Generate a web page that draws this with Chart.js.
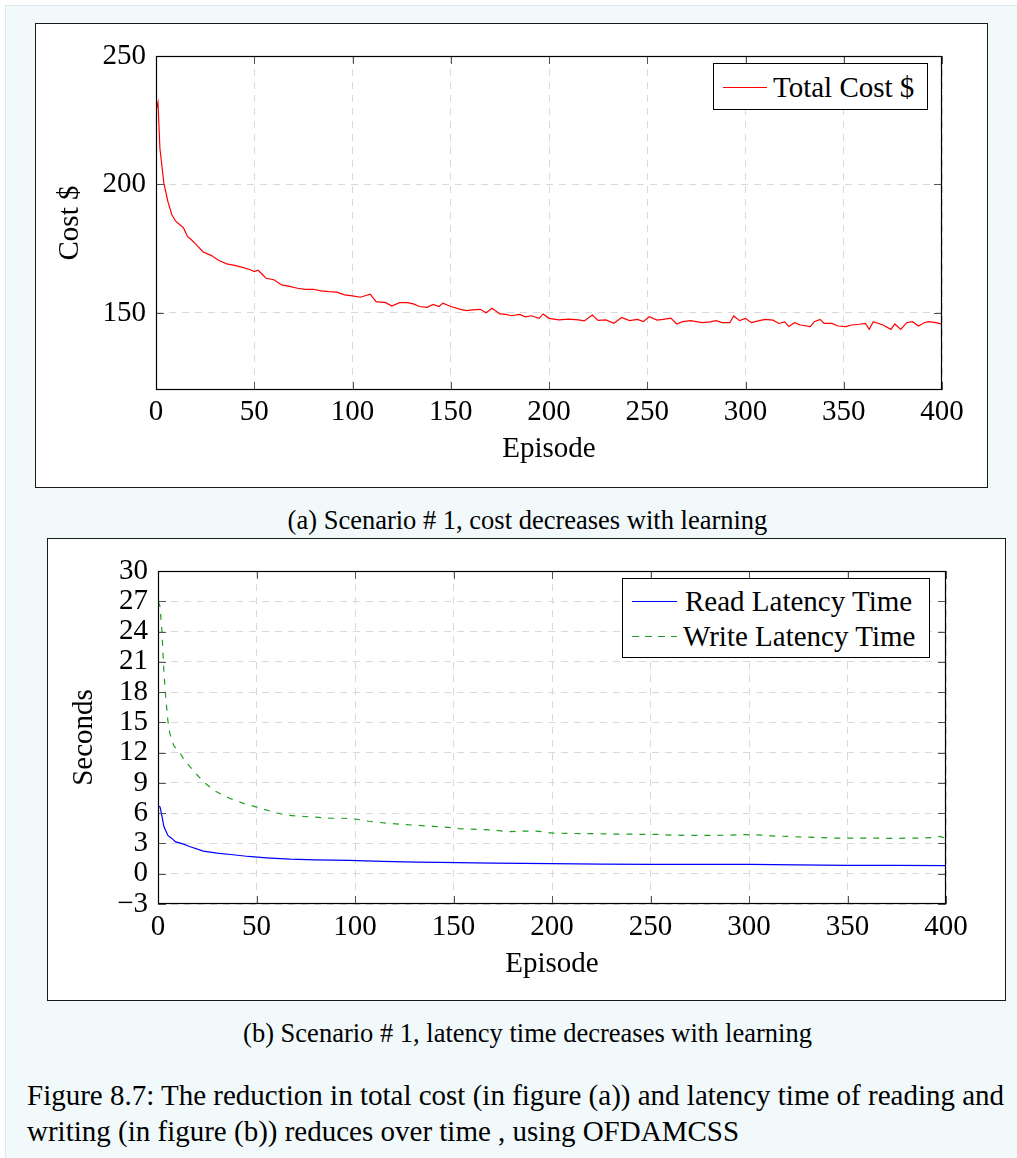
<!DOCTYPE html>
<html>
<head>
<meta charset="utf-8">
<script src="https://cdn.jsdelivr.net/npm/chart.js@4.4.1/dist/chart.umd.min.js"></script>
<style>
  html, body { margin: 0; padding: 0; background: #fff; }
  body { width: 1017px; height: 1158px; position: relative; overflow: hidden; font-family: 'Liberation Serif', 'Times New Roman', serif; color: #000; }
  #page { position: absolute; left: 5px; top: 5px; width: 1012px; height: 1153px; background: #f2f9fb; border-top: 1px solid #dde9ef; border-left: 1px solid #dde9ef; }
  .frame { position: absolute; background: #fff; border: 1px solid #1a1a1a; box-sizing: border-box; }
  canvas { position: absolute; }
  .legend { position: absolute; background: #fff; border: 1px solid #000; box-sizing: border-box; }
  .row { position: absolute; font-size: 29px; line-height: 32px; white-space: nowrap; }
  .sample { position: absolute; }
  .cap { position: absolute; font-size: 26.5px; line-height: 32px; white-space: nowrap; }
</style>
</head>
<body>
<div id="page"></div>

<div class="frame" style="left:35px;top:23px;width:953px;height:465px"></div>
<canvas id="costChart" width="951" height="463" style="left:36px;top:24px"></canvas>
<div class="legend" style="left:713px;top:63px;width:215px;height:47px">
  <svg class="sample" style="left:9px;top:22px" width="45" height="4"><line x1="0" y1="1.5" x2="44" y2="1.5" stroke="#ff0000" stroke-width="1.2"/></svg>
  <div class="row" style="left:59px;top:7px">Total Cost $</div>
</div>

<div class="cap" style="left:27px;top:504px;width:1001px;text-align:center">(a) Scenario # 1, cost decreases with learning</div>

<div class="frame" style="left:47px;top:538px;width:959px;height:463px"></div>
<canvas id="latencyChart" width="957" height="461" style="left:48px;top:539px"></canvas>
<div class="legend" style="left:622px;top:578px;width:308px;height:80px">
  <svg class="sample" style="left:9px;top:21px" width="46" height="4"><line x1="0" y1="1.5" x2="45" y2="1.5" stroke="#0000ff" stroke-width="1.2"/></svg>
  <div class="row" style="left:62px;top:6px">Read Latency Time</div>
  <svg class="sample" style="left:9px;top:56px" width="46" height="4"><line x1="0" y1="1.5" x2="45" y2="1.5" stroke="#1f9e1f" stroke-width="1.2" stroke-dasharray="7 6"/></svg>
  <div class="row" style="left:60px;top:41px">Write Latency Time</div>
</div>

<div class="cap" style="left:27px;top:1017px;width:1001px;text-align:center">(b) Scenario # 1, latency time decreases with learning</div>

<div class="cap" style="left:27px;top:1077px;line-height:36px;font-size:29px">Figure 8.7: The reduction in total cost (in figure (a)) and latency time of reading and<br>writing (in figure (b)) reduces over time , using OFDAMCSS</div>

<script>
// figure (a): total cost per episode
const costEpisodes = [0, 1, 2, 4, 6, 8, 10, 12, 14, 16, 18, 20, 24, 28, 32, 36, 40, 44, 48, 50,
  52, 56, 60, 64, 68, 72, 76, 80, 84, 88, 92, 96, 100, 104, 109, 112, 117, 120, 124, 128,
  131, 134, 138, 141, 144, 146, 150, 155, 158, 161, 165, 168, 171, 175, 178, 181, 185, 188, 191, 195,
  197, 200, 205, 210, 215, 218, 222, 225, 229, 233, 237, 241, 245, 248, 251, 255, 258, 262, 265, 268,
  272, 275, 278, 282, 285, 288, 292, 294, 297, 300, 303, 307, 310, 314, 317, 320, 322, 325, 328, 333,
  335, 338, 340, 344, 347, 351, 354, 358, 361, 363, 365, 370, 374, 376, 379, 382, 385, 388, 391, 393,
  397, 400];
const costValues = [228.6, 231.9, 214.0, 200.5, 193.5, 188.3, 185.7, 184.4, 183.1, 179.8, 178.5, 177.0, 173.7, 172.4, 170.4, 169.1, 168.5, 167.7, 166.8, 166.1,
  166.6, 163.5, 162.9, 160.9, 160.3, 159.6, 159.2, 159.2, 158.6, 158.3, 158.1, 157.0, 156.6, 156.1, 157.3, 154.4, 154.0, 152.7, 154.0, 154.0,
  153.5, 152.5, 152.2, 153.3, 152.5, 153.8, 152.5, 151.4, 150.9, 151.2, 151.4, 150.1, 151.8, 149.6, 149.4, 148.9, 149.4, 148.5, 148.9, 147.9,
  149.6, 147.9, 147.3, 147.6, 147.3, 146.9, 149.2, 147.1, 147.3, 146.0, 148.2, 147.0, 147.5, 146.6, 148.5, 147.2, 147.5, 148.0, 145.7, 146.6,
  147.0, 146.6, 146.2, 146.5, 147.0, 146.2, 146.2, 148.8, 147.0, 147.9, 146.2, 147.0, 147.5, 147.2, 145.9, 146.5, 144.7, 146.2, 145.3, 144.7,
  146.6, 147.5, 145.9, 145.9, 144.9, 144.7, 145.3, 145.6, 145.9, 143.6, 146.6, 145.3, 143.6, 145.7, 143.6, 146.2, 146.6, 144.9, 146.2, 146.6,
  146.2, 145.6];
const costTicks = [150, 200, 250];

// figure (b): read / write latency per episode
const readEpisodes = [0, 1, 2, 3, 5, 7, 9, 13, 16, 23, 30, 38, 46, 55, 67, 80, 97, 114, 131, 143,
  170, 200, 225, 250, 275, 300, 325, 350, 375, 400];
const readLatency = [6.7, 6.65, 5.7, 4.67, 3.8, 3.5, 3.16, 2.93, 2.7, 2.24, 2.04, 1.88, 1.71, 1.58, 1.45, 1.38, 1.32, 1.22, 1.15, 1.13,
  1.06, 1.0, 0.96, 0.93, 0.93, 0.92, 0.88, 0.83, 0.82, 0.8];
const writeEpisodes = [0, 1, 2, 3, 4, 5, 6, 8, 11, 14, 19, 23, 29, 36, 43, 50, 57, 65, 72, 80,
  88, 94, 101, 107, 116, 124, 131, 140, 147, 153, 162, 170, 177, 185, 192, 200, 208, 215, 223, 231,
  238, 246, 253, 261, 269, 276, 284, 291, 298, 306, 313, 320, 327, 335, 342, 350, 358, 365, 373, 381,
  388, 394, 397, 400];
const writeLatency = [27.0, 26.5, 24.0, 20.0, 17.3, 15.2, 13.9, 12.7, 12.0, 11.1, 10.0, 9.1, 8.2, 7.5, 7.0, 6.6, 6.2, 5.8, 5.7, 5.6,
  5.5, 5.5, 5.4, 5.2, 5.0, 4.9, 4.8, 4.7, 4.6, 4.47, 4.4, 4.33, 4.17, 4.23, 4.23, 4.03, 4.0, 3.97, 3.97, 3.93,
  3.93, 3.9, 3.9, 3.83, 3.8, 3.8, 3.8, 3.83, 3.87, 3.83, 3.73, 3.7, 3.63, 3.6, 3.53, 3.53, 3.53, 3.53, 3.5, 3.53,
  3.53, 3.6, 3.7, 3.5];

const episodeTicks = [0, 50, 100, 150, 200, 250, 300, 350, 400];
const secondsTicks = [-3, 0, 3, 6, 9, 12, 15, 18, 21, 24, 27, 30];

const serif = 'Liberation Serif';
const gridColor = '#d9d9d9';

const toPoints = (xs, ys) => xs.map((x, i) => ({ x: x, y: ys[i] }));

// pgfplots style box: black frame + short inward ticks on all four sides
const pgfFrame = {
  id: 'pgfFrame',
  afterDatasetsDraw(chart) {
    const { ctx, chartArea: a, scales } = chart;
    const len = 8;
    ctx.save();
    ctx.strokeStyle = '#555';
    ctx.lineWidth = 1;
    ctx.beginPath();
    scales.x.ticks.forEach(t => {
      const px = Math.round(scales.x.getPixelForValue(t.value)) + 0.5;
      ctx.moveTo(px, a.bottom); ctx.lineTo(px, a.bottom - len);
      ctx.moveTo(px, a.top); ctx.lineTo(px, a.top + len);
    });
    scales.y.ticks.forEach(t => {
      const py = Math.round(scales.y.getPixelForValue(t.value)) + 0.5;
      ctx.moveTo(a.left, py); ctx.lineTo(a.left + len, py);
      ctx.moveTo(a.right, py); ctx.lineTo(a.right - len, py);
    });
    ctx.stroke();
    ctx.strokeStyle = '#000';
    ctx.lineWidth = 1.2;
    ctx.strokeRect(a.left + 0.5, a.top + 0.5, a.right - a.left - 1, a.bottom - a.top - 1);
    ctx.restore();
  }
};

function axisX(tickPad, titlePadBottom, height) {
  return {
    type: 'linear',
    min: episodeTicks[0],
    max: episodeTicks[episodeTicks.length - 1],
    afterBuildTicks: scale => { scale.ticks = episodeTicks.map(v => ({ value: v })); },
    ticks: { autoSkip: false, color: '#000', padding: tickPad, maxRotation: 0, font: { family: serif, size: 29 } },
    grid: { color: gridColor, lineWidth: 1, drawTicks: false },
    border: { display: false, dash: [7, 6] },
    title: { display: true, text: 'Episode', color: '#000', font: { family: serif, size: 29 }, padding: { top: 0, bottom: titlePadBottom } },
    afterFit: scale => { scale.height = height; }
  };
}

function axisY(label, titlePadTop, tickPad, width, tickValues) {
  return {
    type: 'linear',
    afterBuildTicks: scale => { scale.ticks = tickValues.map(v => ({ value: v })); },
    ticks: {
      autoSkip: false, color: '#000', padding: tickPad, font: { family: serif, size: 29 },
      callback: v => String(v).replace('-', '\u2212')
    },
    grid: { color: gridColor, lineWidth: 1, drawTicks: false },
    border: { display: false, dash: [7, 6] },
    title: { display: true, text: label, color: '#000', font: { family: serif, size: 29 }, padding: { top: titlePadTop, bottom: 0 } },
    afterFit: scale => { scale.width = width; }
  };
}

// (a) cost chart
const costY = axisY('Cost $', 17, 10, 120, costTicks);
costY.min = 120;
costY.max = 250;

new Chart(document.getElementById('costChart'), {
  type: 'line',
  data: {
    datasets: [{
      label: 'Total Cost $',
      data: toPoints(costEpisodes, costValues),
      borderColor: '#ff0000',
      borderWidth: 1.2,
      pointRadius: 0,
      tension: 0,
      fill: false
    }]
  },
  options: {
    responsive: false,
    animation: false,
    layout: { padding: { top: 32, right: 45, left: 0, bottom: 0 } },
    plugins: { legend: { display: false }, tooltip: { enabled: false } },
    scales: {
      x: axisX(5, 20, 97),
      y: costY
    }
  },
  plugins: [pgfFrame]
});

// (b) latency chart
const latY = axisY('Seconds', 19, 10, 110, secondsTicks);
latY.min = secondsTicks[0];
latY.max = secondsTicks[secondsTicks.length - 1];

new Chart(document.getElementById('latencyChart'), {
  type: 'line',
  data: {
    datasets: [{
      label: 'Read Latency Time',
      data: toPoints(readEpisodes, readLatency),
      borderColor: '#0000ff',
      borderWidth: 1.2,
      pointRadius: 0,
      tension: 0,
      fill: false
    }, {
      label: 'Write Latency Time',
      data: toPoints(writeEpisodes, writeLatency),
      borderColor: '#1f9e1f',
      borderWidth: 1.2,
      borderDash: [6, 7],
      pointRadius: 0,
      tension: 0,
      fill: false
    }]
  },
  options: {
    responsive: false,
    animation: false,
    layout: { padding: { top: 32, right: 59, left: 0, bottom: 0 } },
    plugins: { legend: { display: false }, tooltip: { enabled: false } },
    scales: {
      x: axisX(6, 18, 96),
      y: latY
    }
  },
  plugins: [pgfFrame]
});
</script>
</body>
</html>
